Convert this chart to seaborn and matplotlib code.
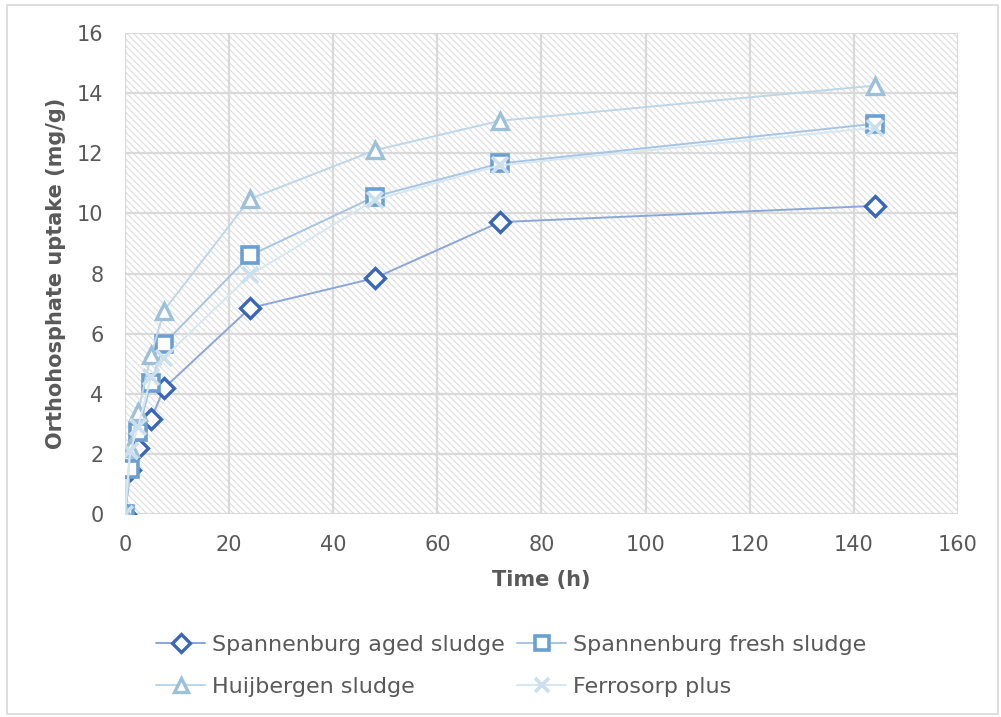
import matplotlib
matplotlib.use("Agg")
import matplotlib.pyplot as plt
from matplotlib.patches import Rectangle
import seaborn as sns
import pandas as pd

# Contact time (h)
time_h = [0, 1, 2.5, 5, 7.5, 24, 48, 72, 144]

# Orthophosphate uptake (mg/g)
aged_sludge = [0, 1.45, 2.2, 3.15, 4.19, 6.85, 7.85, 9.71, 10.25]
fresh_sludge = [0, 1.5, 2.74, 4.36, 5.67, 8.6, 10.56, 11.66, 12.98]
huijbergen_sludge = [0, 2.2, 3.4, 5.29, 6.77, 10.48, 12.1, 13.08, 14.25]
ferrosorp_plus = [0, 2.1, 2.9, 4.55, 5.2, 7.95, 10.45, 11.6, 12.85]

series_names = [
    "Spannenburg aged sludge",
    "Spannenburg fresh sludge",
    "Huijbergen sludge",
    "Ferrosorp plus",
]
series_values = [aged_sludge, fresh_sludge, huijbergen_sludge, ferrosorp_plus]

x_ticks = [0, 20, 40, 60, 80, 100, 120, 140, 160]
y_ticks = [0, 2, 4, 6, 8, 10, 12, 14, 16]

sns.set_theme(style="white")
plt.rcParams["font.family"] = ["DejaVu Sans"]
plt.rcParams["hatch.linewidth"] = 0.9

styles = {
    "Spannenburg aged sludge": dict(marker="D", ms=10, mec="#3A66B8", line="#8CA6D8", mew=2.4),
    "Spannenburg fresh sludge": dict(marker="s", ms=11, mec="#6A9FD2", line="#A6C5E4", mew=2.6),
    "Huijbergen sludge": dict(marker="^", ms=11, mec="#9CC0D8", line="#BDD6E8", mew=2.4),
    "Ferrosorp plus": dict(marker="x", ms=11, mec="#CBE0EC", line="#D6E7F1", mew=2.6),
}

df = pd.DataFrame(
    [(t, v, name) for name, vals in zip(series_names, series_values) for t, v in zip(time_h, vals)],
    columns=["time", "uptake", "series"],
)

fig = plt.figure(figsize=(10.01, 7.17), dpi=100)
fig.patches.append(Rectangle((0.007, 0.004), 0.99, 0.989, transform=fig.transFigure,
                             fill=False, edgecolor="#d9d9d9", linewidth=1.2))
ax = fig.add_axes([0.1249, 0.283, 0.832, 0.671])

# hatched plot area
ax.add_patch(Rectangle((0, 0), 1, 1, transform=ax.transAxes, facecolor="white",
                       hatch="\\" * 5, edgecolor="#e0e0e0", linewidth=0, zorder=0))

for name in series_names:
    st = styles[name]
    sub = df[df["series"] == name]
    sns.lineplot(data=sub, x="time", y="uptake", ax=ax, color=st["line"], lw=1.4,
                 marker=st["marker"], markersize=st["ms"], markeredgecolor=st["mec"],
                 markerfacecolor="white" if st["marker"] != "x" else st["mec"],
                 markeredgewidth=st["mew"], label=name, zorder=3, legend=False)

ax.set_xlim(0, 160)
ax.set_ylim(0, 16)
ax.set_xticks(x_ticks)
ax.set_yticks(y_ticks)
ax.grid(True, color="#d9d9d9", linewidth=1.6, zorder=1)
ax.set_axisbelow(True)
for s in ax.spines.values():
    s.set_visible(False)
ax.tick_params(axis="both", length=0, labelsize=15, labelcolor="#595959")
ax.tick_params(axis="x", pad=15)
ax.tick_params(axis="y", pad=15.5)

ax.set_xlabel("Time (h)", fontsize=15, fontweight="bold", color="#595959", labelpad=10.5)
ax.set_ylabel("Orthohosphate uptake (mg/g)", fontsize=15, fontweight="bold", color="#595959", labelpad=8)

handles = {}
for name in series_names:
    st = styles[name]
    h, = ax.plot([], [], color=st["line"], lw=1.4, marker=st["marker"], markersize=st["ms"] * 0.9,
                 markeredgecolor=st["mec"],
                 markerfacecolor="white" if st["marker"] != "x" else st["mec"],
                 markeredgewidth=st["mew"])
    handles[name] = h

# legend filled row by row: two entries per row
order = [series_names[0], series_names[2], series_names[1], series_names[3]]
leg = fig.legend([handles[n] for n in order], order, loc="upper left",
                 bbox_to_anchor=(0.136, 0.142), ncol=2, frameon=False, fontsize=16,
                 handlelength=2.2, handletextpad=0.3, columnspacing=0.58, labelspacing=0.98)
for t in leg.get_texts():
    t.set_color("#595959")

fig.savefig("out.png", dpi=100)
